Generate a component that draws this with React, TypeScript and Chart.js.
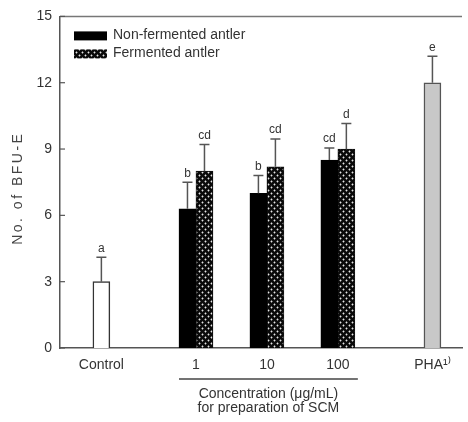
import React, { useEffect, useRef } from 'react';
import { Chart, registerables } from 'chart.js';

Chart.register(...registerables);

// ---- data ----
const categories = ['Control', '1', '10', '100', 'PHA¹⁾'];
const controlValue = [3.0];
const controlError = [1.1];
const controlLetters = ['a'];
const nonFermented = [6.3, 7.0, 8.5];
const nonFermentedError = [1.2, 0.8, 0.55];
const nonFermentedLetters = ['b', 'b', 'cd'];
const fermented = [8.0, 8.2, 9.0];
const fermentedError = [1.2, 1.25, 1.15];
const fermentedLetters = ['cd', 'cd', 'd'];
const phaValue = [12.0];
const phaError = [1.2];
const phaLetters = ['e'];
const yTicks = [0, 3, 6, 9, 12, 15];
const seriesNames = ['Non-fermented antler', 'Fermented antler'];
const xTitle = ['Concentration (\u03bcg/mL)', 'for preparation of SCM'];
const yTitle = 'No. of BFU-E';

// ---- layout (slot positions on the category axis) ----
const SLOT_COUNT = 34;
const categorySlots = [3, 11, 17, 23, 31];

const FONT = '"Liberation Sans", Arial, sans-serif';
const TEXT = '#333';
const AXIS = '#555';

function place(values: (number | string)[], slots: number[]) {
  const arr: any[] = Array(SLOT_COUNT).fill(null);
  values.forEach((v, i) => { arr[slots[i]] = v; });
  return arr;
}

export default function App() {
  const ref = useRef<HTMLCanvasElement>(null);

  useEffect(() => {
    document.body.style.margin = '0';
    const canvas = ref.current!;

    // crosshatch pattern for fermented bars
    const pat = document.createElement('canvas');
    pat.width = 6; pat.height = 6;
    const p = pat.getContext('2d')!;
    p.fillStyle = '#0a0a0a';
    p.fillRect(0, 0, 6, 6);
    p.fillStyle = '#e4e4e4';
    const diamond = (cx: number, cy: number, r: number) => {
      p.beginPath();
      p.moveTo(cx, cy - r); p.lineTo(cx + r, cy); p.lineTo(cx, cy + r); p.lineTo(cx - r, cy);
      p.closePath(); p.fill();
    };
    diamond(1.5, 1.5, 1.15);
    diamond(4.5, 4.5, 1.15);
    const pattern = canvas.getContext('2d')!.createPattern(pat, 'repeat')!;

    const labels = Array.from({ length: SLOT_COUNT }, () => '');
    categorySlots.forEach((s, i) => { labels[s] = categories[i]; });
    const ctrlSlots = [categorySlots[0]];
    const groupSlots = categorySlots.slice(1, 4);
    const phaSlots = [categorySlots[4]];

    const common = { barThickness: 17, skipNull: true, borderSkipped: 'bottom' as const };

    const datasets: any[] = [
      {
        label: 'Control', data: place(controlValue, ctrlSlots),
        errors: place(controlError, ctrlSlots), letters: place(controlLetters, ctrlSlots),
        backgroundColor: '#ffffff', borderColor: '#333', borderWidth: 1.5, ...common,
      },
      {
        label: seriesNames[0], data: place(nonFermented, groupSlots),
        errors: place(nonFermentedError, groupSlots), letters: place(nonFermentedLetters, groupSlots),
        backgroundColor: '#000', borderColor: '#000', borderWidth: 1, ...common,
      },
      {
        label: seriesNames[1], data: place(fermented, groupSlots),
        errors: place(fermentedError, groupSlots), letters: place(fermentedLetters, groupSlots),
        backgroundColor: pattern, borderColor: '#111', borderWidth: 1, ...common,
      },
      {
        label: 'PHA', data: place(phaValue, phaSlots),
        errors: place(phaError, phaSlots), letters: place(phaLetters, phaSlots),
        backgroundColor: '#c8c8c8', borderColor: '#555', borderWidth: 1.5, ...common,
      },
    ];

    const decor = {
      id: 'decor',
      afterDatasetsDraw(chart: any) {
        const { ctx, scales: { y } } = chart;
        ctx.save();
        chart.data.datasets.forEach((ds: any, di: number) => {
          const meta = chart.getDatasetMeta(di);
          meta.data.forEach((el: any, i: number) => {
            const v = ds.data[i];
            if (v == null) return;
            const e = ds.errors[i];
            const x = el.x;
            const yTop = y.getPixelForValue(v);
            const yErr = y.getPixelForValue(v + e);
            ctx.strokeStyle = AXIS;
            ctx.lineWidth = 1.5;
            ctx.beginPath();
            ctx.moveTo(x, yTop); ctx.lineTo(x, yErr);
            ctx.moveTo(x - 5, yErr); ctx.lineTo(x + 5, yErr);
            ctx.stroke();
            ctx.fillStyle = TEXT;
            ctx.font = `12px ${FONT}`;
            ctx.textAlign = 'center';
            ctx.textBaseline = 'bottom';
            ctx.fillText(ds.letters[i], x, yErr - 3);
          });
        });
        ctx.restore();
      },
      afterDraw(chart: any) {
        const { ctx, chartArea: ca, scales: { x, y } } = chart;
        ctx.save();
        // top frame line
        ctx.strokeStyle = '#777';
        ctx.lineWidth = 1.5;
        ctx.beginPath();
        ctx.moveTo(ca.left, ca.top); ctx.lineTo(ca.right, ca.top);
        ctx.stroke();
        // inward ticks
        ctx.strokeStyle = AXIS;
        ctx.lineWidth = 1.2;
        yTicks.forEach((t) => {
          const py = y.getPixelForValue(t);
          ctx.beginPath(); ctx.moveTo(ca.left, py); ctx.lineTo(ca.left + 5, py); ctx.stroke();
        });
        // legend
        const legendFills = [datasets[1], datasets[2]];
        legendFills.forEach((ds, i) => {
          const cy = ca.top + 19 + i * 18;
          ctx.fillStyle = ds.backgroundColor;
          ctx.fillRect(ca.left + 14, cy - 4, 33, 9);
          ctx.fillStyle = TEXT;
          ctx.font = `14px ${FONT}`;
          ctx.textAlign = 'left';
          ctx.textBaseline = 'middle';
          ctx.fillText(seriesNames[i], ca.left + 53, cy);
        });
        // y title
        ctx.save();
        ctx.translate(18, (ca.top + ca.bottom) / 2 + 6);
        ctx.rotate(-Math.PI / 2);
        (ctx as any).letterSpacing = '2.5px';
        ctx.fillStyle = '#444';
        ctx.font = `14px ${FONT}`;
        ctx.textAlign = 'center';
        ctx.textBaseline = 'middle';
        ctx.fillText(yTitle, 0, 0);
        ctx.restore();
        // concentration bracket and title
        const c1 = x.getPixelForValue(groupSlots[0]);
        const c3 = x.getPixelForValue(groupSlots[2]);
        const x1 = c1 - 17;
        const x2 = c3 + 20;
        ctx.strokeStyle = '#444';
        ctx.lineWidth = 1.5;
        ctx.beginPath();
        ctx.moveTo(x1, ca.bottom + 31); ctx.lineTo(x2, ca.bottom + 31);
        ctx.stroke();
        ctx.fillStyle = TEXT;
        ctx.font = `14px ${FONT}`;
        ctx.textAlign = 'center';
        ctx.textBaseline = 'middle';
        xTitle.forEach((line, i) => ctx.fillText(line, (x1 + x2) / 2, ca.bottom + 46 + i * 14));
        ctx.restore();
      },
    };

    const chart = new Chart(canvas, {
      type: 'bar',
      data: { labels, datasets },
      options: {
        responsive: false,
        animation: false,
        devicePixelRatio: 1,
        layout: { padding: { top: 15, right: 6, left: 0, bottom: 0 } },
        plugins: { legend: { display: false }, tooltip: { enabled: false } },
        scales: {
          x: {
            type: 'category',
            offset: true,
            grid: { display: false, drawTicks: false },
            border: { display: true, color: AXIS, width: 1.5 },
            ticks: {
              autoSkip: false, maxRotation: 0, minRotation: 0, padding: 9,
              color: TEXT, font: { family: FONT, size: 14 },
            },
            afterFit: (s: any) => { s.height = 74; },
          },
          y: {
            min: 0, max: 15,
            grid: { display: false, drawTicks: false },
            border: { display: true, color: AXIS, width: 1.5 },
            ticks: {
              stepSize: 3, padding: 8, color: TEXT, font: { family: FONT, size: 14 },
              callback: (v: any) => (yTicks.includes(Number(v)) ? String(v) : ''),
            },
            afterFit: (s: any) => { s.width = 60; },
          },
        },
      },
      plugins: [decor],
    });

    return () => chart.destroy();
  }, []);

  return (
    <div style={{ position: 'absolute', left: 0, top: 0, width: 468, height: 422 }}>
      <canvas ref={ref} width={468} height={422} style={{ display: 'block', width: 468, height: 422 }} />
    </div>
  );
}
